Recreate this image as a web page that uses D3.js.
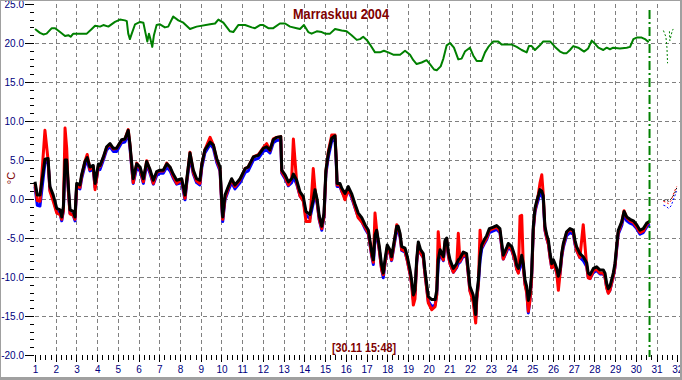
<!DOCTYPE html>
<html><head><meta charset="utf-8">
<script src="https://cdn.jsdelivr.net/npm/d3@7"></script>
<style>body{margin:0;background:#fff} svg{display:block}</style>
</head><body><svg id="c" width="682" height="380"></svg>
<script>
const titleText = "Marraskuu 2004";
const nowLabel = "[30.11 15:48]";
const unitLabel = "°C";
const yTickValues = [-20,-15,-10,-5,0,5,10,15,20,25];
const yTickLabels = ["-20.0","-15.0","-10.0","-5.0","0.0","5.0","10.0","15.0","20.0","25.0"];
const xTickValues = [1,2,3,4,5,6,7,8,9,10,11,12,13,14,15,16,17,18,19,20,21,22,23,24,25,26,27,28,29,30,31,32];
const xTickLabels = ["1","2","3","4","5","6","7","8","9","10","11","12","13","14","15","16","17","18","19","20","21","22","23","24","25","26","27","28","29","30","31","32"];
const nowDay = 30.66;

// outdoor sensors: time (day of month), black / red / blue series
const outTime = [
1.00,1.11,1.24,1.48,1.63,1.72,1.88,2.05,2.21,2.29,
2.37,2.45,2.53,2.61,2.69,2.85,2.93,3.01,3.17,3.25,
3.41,3.52,3.65,3.81,3.90,4.06,4.14,4.30,4.46,4.62,
4.78,4.94,5.18,5.34,5.50,5.58,5.67,5.74,5.91,6.07,
6.23,6.39,6.55,6.71,6.87,7.03,7.19,7.36,7.52,7.67,
7.84,8.08,8.24,8.32,8.48,8.64,8.80,8.96,9.05,9.20,
9.45,9.61,9.77,9.93,10.01,10.06,10.17,10.33,10.49,10.65,
10.90,11.14,11.29,11.54,11.78,12.02,12.18,12.34,12.50,12.66,
12.86,12.91,13.07,13.23,13.39,13.47,13.63,13.79,13.95,14.08,
14.27,14.43,14.51,14.62,14.72,14.84,14.95,15.04,15.16,15.32,
15.48,15.54,15.58,15.72,15.80,15.96,16.12,16.28,16.44,16.60,
16.77,16.93,17.09,17.25,17.33,17.41,17.49,17.62,17.73,17.81,
17.89,18.00,18.13,18.21,18.33,18.46,18.53,18.62,18.70,18.86,
18.97,19.10,19.18,19.26,19.34,19.42,19.50,19.61,19.74,19.82,
19.90,19.98,20.15,20.31,20.39,20.46,20.55,20.71,20.79,20.87,
20.95,21.03,21.19,21.35,21.43,21.51,21.67,21.83,21.91,21.99,
22.15,22.27,22.32,22.40,22.48,22.56,22.67,22.80,22.93,23.12,
23.28,23.44,23.52,23.60,23.77,23.84,24.01,24.17,24.25,24.33,
24.41,24.49,24.57,24.65,24.73,24.81,24.89,24.97,25.05,25.13,
25.21,25.30,25.37,25.46,25.53,25.61,25.70,25.78,25.86,25.94,
26.02,26.10,26.18,26.26,26.34,26.42,26.50,26.66,26.82,26.98,
27.06,27.14,27.30,27.46,27.63,27.70,27.79,27.95,28.11,28.27,
28.43,28.51,28.59,28.67,28.75,28.91,28.99,29.07,29.15,29.32,
29.43,29.56,29.72,29.88,30.04,30.20,30.36,30.52,30.66];
const outBlack = [
2.2,0.5,0.5,5.1,5.2,1.6,0.5,-1.2,-1.4,-2.3,
-1.0,5.0,5.0,1.6,-1.4,-1.6,-2.3,2.0,1.8,3.1,
4.8,5.3,4.1,4.3,2.0,4.5,4.3,5.4,6.7,7.1,
6.5,6.5,7.6,7.7,8.8,7.1,4.5,2.6,4.5,4.1,
2.6,4.8,3.8,2.4,3.5,3.7,3.7,4.5,4.1,3.2,
2.4,2.6,0.5,2.4,5.9,3.7,2.6,2.4,4.5,6.3,
7.3,6.9,5.2,4.1,-0.1,-2.3,0.5,1.6,2.6,1.8,
2.6,3.9,4.1,5.4,5.6,6.5,6.7,6.3,7.6,7.9,
8.0,3.7,3.1,2.2,2.6,3.2,2.4,0.9,0.3,-1.6,
-2.0,-0.1,1.2,-0.1,-2.2,-3.5,-1.8,3.7,5.9,7.8,
8.1,5.0,2.0,2.0,1.4,0.7,1.6,0.7,-0.6,-1.8,
-2.4,-3.3,-4.0,-6.8,-7.8,-4.6,-4.0,-6.1,-8.5,-9.5,
-7.8,-5.9,-6.5,-7.4,-5.5,-3.5,-3.5,-4.4,-6.1,-6.3,
-7.4,-9.1,-10.4,-12.3,-11.7,-7.8,-5.5,-6.5,-7.0,-9.1,
-10.8,-12.5,-12.9,-12.9,-11.7,-7.8,-6.5,-7.4,-5.3,-5.0,
-6.8,-7.8,-8.9,-8.3,-7.8,-7.6,-6.8,-7.0,-9.1,-11.2,
-12.3,-14.8,-12.2,-10.4,-7.4,-5.9,-5.3,-4.7,-3.8,-3.6,
-3.4,-3.8,-5.5,-7.2,-6.2,-5.7,-6.1,-7.4,-8.5,-8.9,
-8.3,-7.2,-8.3,-10.4,-11.2,-13.0,-12.0,-9.5,-3.5,-1.2,
-0.3,0.5,1.2,1.0,0.4,-3.5,-4.6,-5.3,-7.0,-8.3,
-7.8,-8.3,-8.9,-9.9,-9.1,-7.0,-5.7,-4.2,-3.8,-4.0,
-5.3,-6.1,-7.0,-7.4,-8.2,-9.5,-9.7,-8.9,-8.7,-9.1,
-9.1,-9.5,-10.8,-11.5,-11.2,-9.5,-8.3,-6.1,-4.0,-2.9,
-1.6,-2.3,-2.6,-2.8,-3.3,-4.0,-3.8,-3.1,-2.9];
const outRed = [
1.9,-0.2,-0.3,8.8,5.0,1.0,-0.3,-1.8,-2.0,-2.6,
-1.5,9.1,6.5,1.0,-1.9,-2.1,-2.6,1.6,1.5,2.9,
4.8,5.7,3.8,4.2,1.2,4.3,4.2,5.3,6.6,7.0,
6.4,6.5,7.5,7.7,8.9,7.0,4.1,2.1,4.6,3.9,
2.2,4.9,3.6,2.0,3.4,3.6,3.6,4.6,4.0,2.9,
2.0,2.5,0.1,2.2,6.0,3.4,2.3,2.0,4.4,6.3,
7.9,6.9,5.0,3.8,-0.6,-2.6,0.1,1.4,2.5,1.6,
2.5,3.9,4.1,5.4,5.7,6.6,7.1,6.2,7.7,7.9,
8.0,3.5,2.8,1.8,2.7,7.7,2.1,0.4,-0.3,-2.9,
-2.9,3.9,1.3,-0.5,-2.6,-3.8,-2.2,3.5,6.1,8.2,
8.2,5.0,1.8,1.8,1.1,-0.1,1.3,0.4,-1.0,-2.4,
-2.9,-3.6,-4.4,-7.2,-8.1,-1.8,-4.0,-6.6,-9.1,-9.7,
-8.3,-6.2,-6.9,-7.8,-5.8,-3.3,-3.7,-4.7,-6.5,-6.7,
-7.9,-9.6,-11.0,-13.6,-12.8,-8.2,-5.8,-6.9,-7.5,-9.6,
-11.4,-13.3,-14.2,-13.8,-12.3,-4.2,-6.8,-7.8,-5.5,-5.1,
-7.2,-8.3,-9.4,-8.7,-4.4,-8.0,-7.1,-7.4,-9.6,-11.8,
-13.2,-15.9,-13.0,-10.9,-4.0,-6.2,-5.6,-5.0,-4.0,-3.8,
-3.6,-4.1,-5.9,-7.7,-6.5,-5.9,-6.5,-7.9,-9.0,-9.5,
-2.2,-2.1,-8.8,-11.0,-12.0,-14.4,-13.0,-10.2,-3.9,-1.5,
-0.5,0.7,2.0,3.1,0.6,-3.9,-5.0,-5.8,-7.5,-8.8,
-8.2,-8.8,-9.5,-11.7,-9.6,-7.3,-5.9,-4.3,-3.9,-4.2,
-5.6,-6.6,-7.5,-3.3,-8.7,-10.1,-10.2,-9.2,-9.0,-9.5,
-9.5,-10.0,-11.4,-12.1,-11.7,-9.9,-8.7,-6.4,-4.3,-3.0,
-1.5,-2.4,-2.8,-3.0,-3.6,-4.3,-4.1,-3.3,-2.8];
const outBlue = [
1.6,-0.8,-0.9,4.6,4.8,1.2,0.0,-1.6,-1.9,-2.8,
-1.5,4.6,4.6,1.1,-1.8,-2.1,-2.8,1.5,1.3,2.6,
4.3,4.9,3.6,3.8,1.5,4.0,3.8,5.0,6.3,6.7,
6.1,6.1,7.2,7.3,8.4,6.6,4.0,2.0,4.0,3.6,
2.0,4.4,3.3,1.9,3.0,3.3,3.3,4.1,3.6,2.7,
1.9,2.1,-0.1,1.9,5.4,3.2,2.1,1.8,4.0,5.9,
7.0,6.5,4.7,3.6,-0.6,-2.9,-0.1,1.1,2.1,1.3,
2.1,3.4,3.6,5.0,5.2,6.1,6.3,5.9,7.2,7.5,
7.6,3.3,2.6,1.7,2.1,2.8,1.9,0.4,-0.2,-2.1,
-2.5,-0.5,0.8,-0.6,-2.7,-4.0,-2.3,3.2,5.4,7.4,
7.7,4.6,1.6,1.6,1.0,0.2,1.1,0.2,-1.1,-2.3,
-2.9,-3.8,-4.5,-7.3,-8.4,-5.1,-4.5,-6.6,-9.0,-10.1,
-8.3,-6.4,-7.0,-7.9,-6.0,-4.0,-4.0,-4.9,-6.6,-6.8,
-7.9,-9.6,-10.9,-12.9,-12.2,-8.3,-6.0,-7.0,-7.5,-9.6,
-11.3,-13.1,-13.8,-13.6,-12.2,-8.3,-7.0,-7.9,-5.8,-5.5,
-7.3,-8.3,-9.4,-8.8,-8.3,-8.1,-7.3,-7.5,-9.6,-11.7,
-12.9,-15.3,-12.7,-10.9,-7.9,-6.4,-5.8,-5.2,-4.3,-4.1,
-3.9,-4.3,-6.0,-7.7,-6.7,-6.2,-6.6,-7.9,-9.0,-9.4,
-8.8,-7.7,-8.8,-10.9,-11.8,-14.6,-12.8,-10.0,-4.0,-1.7,
-0.8,0.0,0.8,0.6,-0.1,-4.0,-5.1,-5.8,-7.5,-8.8,
-8.3,-8.8,-9.4,-10.4,-9.6,-7.5,-6.2,-4.7,-4.3,-4.5,
-5.8,-6.6,-7.5,-7.9,-8.7,-10.0,-10.2,-9.4,-9.2,-9.6,
-9.6,-10.0,-11.3,-12.0,-11.7,-10.0,-8.8,-6.6,-4.5,-3.4,
-2.0,-2.8,-3.1,-3.3,-3.8,-4.5,-4.3,-3.6,-3.2];

// indoor sensor (green)
const inTime = [
1.00,1.24,1.40,1.56,1.81,1.97,2.21,2.45,2.61,2.72,
2.85,3.50,3.74,3.90,4.14,4.30,4.54,4.86,5.10,5.34,
5.43,5.50,5.58,5.67,5.83,6.07,6.23,6.34,6.42,6.50,
6.58,6.66,6.74,6.87,7.03,7.27,7.43,7.67,7.92,8.16,
8.48,8.80,9.45,9.69,9.85,10.09,10.41,10.57,10.81,11.14,
11.46,11.62,11.86,12.02,12.26,12.50,12.82,13.07,13.31,13.63,
13.79,13.98,14.19,14.35,14.60,14.84,15.00,15.24,15.48,15.80,
16.04,16.28,16.53,16.69,16.84,17.01,17.17,17.41,17.65,17.84,
18.05,18.29,18.62,18.86,19.10,19.26,19.42,19.66,19.90,20.06,
20.26,20.39,20.58,20.71,20.87,21.03,21.22,21.43,21.59,21.75,
21.99,22.15,22.32,22.56,22.72,22.88,23.12,23.36,23.52,23.77,
24.01,24.25,24.49,24.73,24.84,24.97,25.13,25.37,25.53,25.86,
26.10,26.34,26.50,26.66,26.82,26.98,27.22,27.50,27.70,27.87,
28.03,28.19,28.43,28.59,28.75,28.91,29.23,29.56,29.72,29.88,
30.04,30.28,30.44,30.62];
const inGreen = [
21.8,21.3,21.1,21.2,21.9,21.9,21.4,20.9,21.0,20.8,
21.2,21.2,21.8,22.2,22.1,22.3,22.1,22.7,23.0,22.9,
22.8,21.2,20.5,21.2,22.4,22.7,22.6,21.2,20.2,21.2,
20.4,19.5,21.0,22.3,22.4,22.0,22.1,23.4,22.9,22.6,
21.8,22.1,22.4,22.5,23.0,22.6,21.5,21.4,22.3,22.3,
22.0,21.9,22.3,22.3,21.9,21.9,22.5,22.5,22.1,21.9,
21.8,22.3,21.4,21.2,21.5,21.4,21.2,21.2,21.8,21.6,
21.5,21.0,20.4,20.5,20.8,20.4,19.8,18.8,18.8,19.0,
18.8,18.5,18.5,19.0,18.5,17.8,17.3,17.5,17.8,17.3,
16.6,16.5,17.0,18.0,19.7,20.0,19.4,17.9,18.0,18.9,
19.4,18.4,17.7,17.7,18.8,19.5,20.2,20.2,19.8,19.8,
19.8,19.5,19.1,18.8,19.6,19.6,19.1,19.7,20.2,20.2,
19.5,18.9,18.7,18.7,19.1,19.6,19.4,18.9,19.3,20.3,
19.9,19.4,19.1,19.4,19.2,19.4,19.3,19.4,19.5,20.5,
20.7,20.7,20.5,20.1];

// small fragments drawn after the "now" marker
const tailTime  = [31.33,31.45,31.57,31.70,31.85,31.97];
const tailBlack = [-0.2,-0.1,-0.3,0.0,0.6,1.4];
const tailRed   = [-0.3,-0.4,-0.6,-0.2,0.9,1.6];
const tailBlue  = [-0.8,-0.9,-1.2,-0.9,0.2,1.0];
const tailGreenTime = [31.33,31.45,31.50,31.53];
const tailGreen     = [21.6,20.8,19.4,17.4];
const tailGreen2Time = [31.62,31.64,31.74,31.80];
const tailGreen2     = [21.5,20.3,21.4,21.8];

const svg = d3.select("#c");
const W = 682, H = 380;
const FONT = "'Liberation Sans', Arial, sans-serif";
const x = d3.scaleLinear().domain([1, 32]).range([35, 677.3]);
const y = d3.scaleLinear().domain([-20, 25]).range([355, 4]);

svg.append("rect").attr("width", W).attr("height", H).attr("fill", "#fff");

// grid
const grid = svg.append("g").attr("stroke", "#808080").attr("stroke-width", 1)
  .attr("stroke-dasharray", "4,3").attr("shape-rendering", "crispEdges");
xTickValues.filter(d => d > 1 && d < 32).forEach(d => {
  grid.append("line").attr("x1", Math.round(x(d)) + 0.5).attr("x2", Math.round(x(d)) + 0.5)
    .attr("y1", y(25)).attr("y2", y(-20));
});
yTickValues.filter(d => d > -20 && d < 25).forEach(d => {
  grid.append("line").attr("y1", Math.round(y(d)) + 0.5).attr("y2", Math.round(y(d)) + 0.5)
    .attr("x1", x(1)).attr("x2", 680);
});

// axes
function styleAxis(g) {
  g.select(".domain").remove();
  g.selectAll(".tick line").attr("stroke", "#000").attr("shape-rendering", "crispEdges");
  g.selectAll("text").attr("fill", "#000080").attr("font-family", FONT).attr("font-size", 10);
}
const yMinorVals = d3.range(-20, 26, 1).filter(v => v % 5 !== 0);
svg.append("g").attr("transform", "translate(34,0)")
  .call(d3.axisLeft(y).tickValues(yTickValues).tickSize(9).tickPadding(1)
    .tickFormat((d, i) => yTickLabels[i])).call(styleAxis);
svg.append("g").attr("transform", "translate(34,0)")
  .call(d3.axisLeft(y).tickValues(yMinorVals).tickSize(4).tickFormat("")).call(styleAxis);

const xMinorVals = d3.range(1, 32.001, 0.25).filter(v => Math.abs(v - Math.round(v)) > 0.01);
svg.append("g").attr("transform", "translate(0,355)")
  .call(d3.axisBottom(x).tickValues(xTickValues).tickSize(7).tickPadding(4)
    .tickFormat((d, i) => xTickLabels[i])).call(styleAxis);
svg.append("g").attr("transform", "translate(0,355)")
  .call(d3.axisBottom(x).tickValues(xMinorVals).tickSize(4.5).tickFormat("")).call(styleAxis);

// series
const line = d3.line().x(d => x(d[0])).y(d => y(d[1]));
function zip(t, v) { const n = Math.min(t.length, v.length); return d3.range(n).map(i => [t[i], v[i]]); }

svg.append("path").datum(zip(inTime, inGreen)).attr("d", line)
  .attr("fill", "none").attr("stroke", "#008000").attr("stroke-width", 2).attr("stroke-linejoin", "round");

[[outBlue, "#0000ff"], [outRed, "#ff0000"], [outBlack, "#000000"]].forEach(([vals, col]) => {
  svg.append("path").datum(zip(outTime, vals)).attr("d", line)
    .attr("fill", "none").attr("stroke", col).attr("stroke-width", 3).attr("stroke-linejoin", "round");
});

// tail fragments
[[tailTime, tailBlue, "#0000ff"], [tailTime, tailRed, "#ff0000"], [tailTime, tailBlack, "#000000"],
 [tailGreenTime, tailGreen, "#008000"], [tailGreen2Time, tailGreen2, "#008000"]].forEach(([t, v, col]) => {
  svg.append("path").datum(zip(t, v)).attr("d", line).attr("fill", "none")
    .attr("stroke", col).attr("stroke-width", 1).attr("stroke-dasharray", "2,2");
});

// now marker
svg.append("line").attr("x1", x(nowDay)).attr("x2", x(nowDay)).attr("y1", 10).attr("y2", y(-20) + 2)
  .attr("stroke", "#008000").attr("stroke-width", 2).attr("stroke-dasharray", "9,3,2,3");

// texts
svg.append("text").attr("x", 341).attr("y", 18.5).attr("text-anchor", "middle")
  .attr("font-family", FONT).attr("font-weight", "bold").attr("font-size", 14)
  .attr("fill", "#800000").attr("textLength", 96).attr("lengthAdjust", "spacingAndGlyphs").text(titleText);
svg.append("text").attr("x", 364).attr("y", 351.5).attr("text-anchor", "middle")
  .attr("font-family", FONT).attr("font-weight", "bold").attr("font-size", 12)
  .attr("fill", "#800000").attr("textLength", 64).attr("lengthAdjust", "spacingAndGlyphs").text(nowLabel);
svg.append("text").attr("transform", "translate(15,178) rotate(-90)").attr("text-anchor", "middle")
  .attr("font-family", FONT).attr("font-size", 11).attr("fill", "#800000").text(unitLabel);

// frame
svg.append("line").attr("x1", 0).attr("x2", W).attr("y1", 0.5).attr("y2", 0.5).attr("stroke", "#a0a0a0");
svg.append("line").attr("x1", 0.5).attr("x2", 0.5).attr("y1", 0).attr("y2", H).attr("stroke", "#a0a0a0");
svg.append("line").attr("x1", 0).attr("x2", W).attr("y1", 378.5).attr("y2", 378.5).attr("stroke", "#a0a0a0").attr("stroke-width", 3);
svg.append("line").attr("x1", 681).attr("x2", 681).attr("y1", 0).attr("y2", H).attr("stroke", "#a0a0a0").attr("stroke-width", 2);
</script></body></html>
